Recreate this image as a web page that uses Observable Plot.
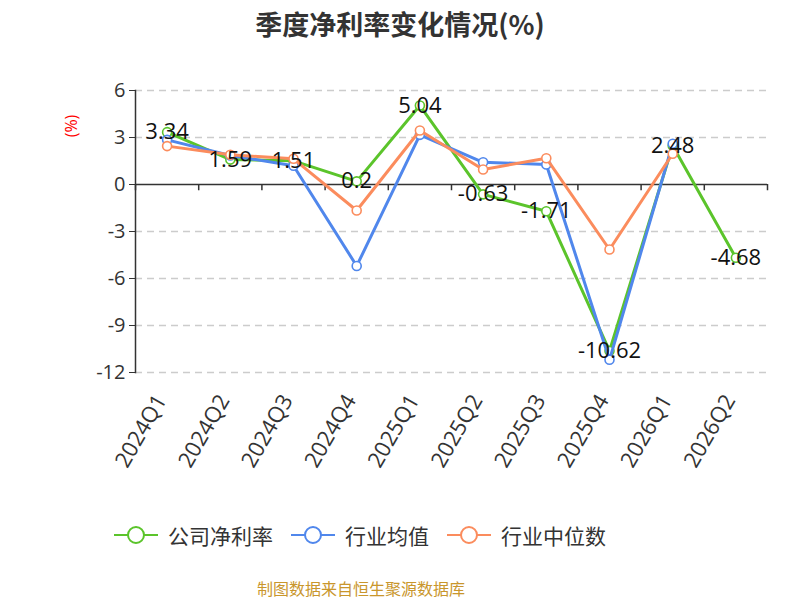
<!DOCTYPE html>
<html><head><meta charset="utf-8">
<script src="https://cdn.jsdelivr.net/npm/d3@7"></script>
<script src="https://cdn.jsdelivr.net/npm/@observablehq/plot@0.6"></script>
<style>
body{margin:0;background:#fff;font-family:"Open Sans","Noto Sans CJK SC",sans-serif;}
#wrap{position:relative;width:800px;height:600px;overflow:hidden;}
#title{position:absolute;left:0;top:4px;width:800px;text-align:center;font-size:27px;font-weight:bold;color:#333;font-family:"Noto Sans CJK SC",sans-serif;}
#chart{position:absolute;left:0;top:40px;}
#ylab{position:absolute;left:60px;top:116px;color:#f00;font-size:16px;line-height:20px;transform:rotate(-90deg);transform-origin:center;}
#legend{position:absolute;left:0;width:720px;top:520px;display:flex;justify-content:center;align-items:center;font-family:"Noto Sans CJK SC",sans-serif;font-size:21px;color:#333;}
.item{display:flex;align-items:center;margin:0 9px;}
.item svg{margin-right:10px;}
#caption{position:absolute;left:0;width:722px;top:579px;line-height:18px;text-align:center;font-size:16px;color:#c9962c;font-family:"Noto Sans CJK SC",sans-serif;}
</style></head>
<body><div id="wrap">
<div id="title">季度净利率变化情况(%)</div>
<div id="ylab">(%)</div>
<div id="chart"></div>
<div id="legend"></div>
<div id="caption">制图数据来自恒生聚源数据库</div>
</div>
<script>
const quarters = ["2024Q1","2024Q2","2024Q3","2024Q4","2025Q1","2025Q2","2025Q3","2025Q4","2026Q1","2026Q2"];
const company = [3.34,1.59,1.51,0.2,5.04,-0.63,-1.71,-10.62,2.48,-4.68];
const industryMean = [2.85,1.85,1.2,-5.2,3.17,1.42,1.28,-11.19,2.6];
const industryMedian = [2.45,1.9,1.64,-1.66,3.45,0.96,1.68,-4.15,1.96];
const yTicks = [6,3,0,-3,-6,-9,-12];
const seriesNames = ["公司净利率","行业均值","行业中位数"];
const colors = ["#5bc42b","#5087ec","#fb8c5d"];

const toRows = arr => arr.map((v,i)=>({i: i+0.5, v}));
const series = [company, industryMean, industryMedian].map(toRows);
const boundaries = d3.range(quarters.length+1);

const marks = [
  Plot.ruleY(yTicks.filter(t=>t!==0), {stroke:"#ccc", strokeWidth:1.3, strokeDasharray:"7,5"}),
  Plot.ruleY([0], {stroke:"#333", strokeWidth:1.5}),
  Plot.ruleX(boundaries, {x: d=>d, y1: 0, y2: -0.4, stroke:"#333", strokeWidth:1.5}),
  Plot.frame({anchor:"left", stroke:"#333", strokeWidth:1.5}),
  Plot.axisY({ticks: yTicks, tickSize: 6, tickPadding: 4, fontSize: 20, color:"#333", label: null, tickFormat: d => String(d)}),
  Plot.axisX({ticks: quarters.map((q,i)=>i+0.5), tickFormat: d => quarters[Math.floor(d)], tickRotate: -60, tickSize: 0, tickPadding: 24, dx: -6, fontSize: 22, color:"#333", label: null})
];
series.forEach((s, k) => {
  marks.push(Plot.line(s, {x:"i", y:"v", stroke: colors[k], strokeWidth: 3}));
  marks.push(Plot.dot(s, {x:"i", y:"v", r: 4.5, fill:"#fff", stroke: colors[k], strokeWidth: 1.6}));
});
marks.push(Plot.text(series[0], {x:"i", y:"v", text: d => String(d.v), fontSize: 22, fill:"#111", textAnchor:"middle", lineAnchor:"middle"}));

const chart = Plot.plot({
  width: 800, height: 450,
  marginTop: 50, marginBottom: 118, marginLeft: 135, marginRight: 33,
  x: {type:"linear", domain:[0, quarters.length], axis: null},
  y: {domain:[-12, 6], axis: null},
  style: {fontFamily: "'Open Sans','Noto Sans CJK SC',sans-serif", background:"transparent", overflow:"visible"},
  marks
});
document.getElementById("chart").appendChild(chart);

const legend = document.getElementById("legend");
seriesNames.forEach((n,k)=>{
  const it = document.createElement("div");
  it.className = "item";
  it.innerHTML = `<svg width="44" height="20"><line x1="0" x2="44" y1="10" y2="10" stroke="${colors[k]}" stroke-width="2"/><circle cx="22" cy="10" r="8" fill="#fff" stroke="${colors[k]}" stroke-width="2"/></svg><span>${n}</span>`;
  legend.appendChild(it);
});
</script>
</body></html>
